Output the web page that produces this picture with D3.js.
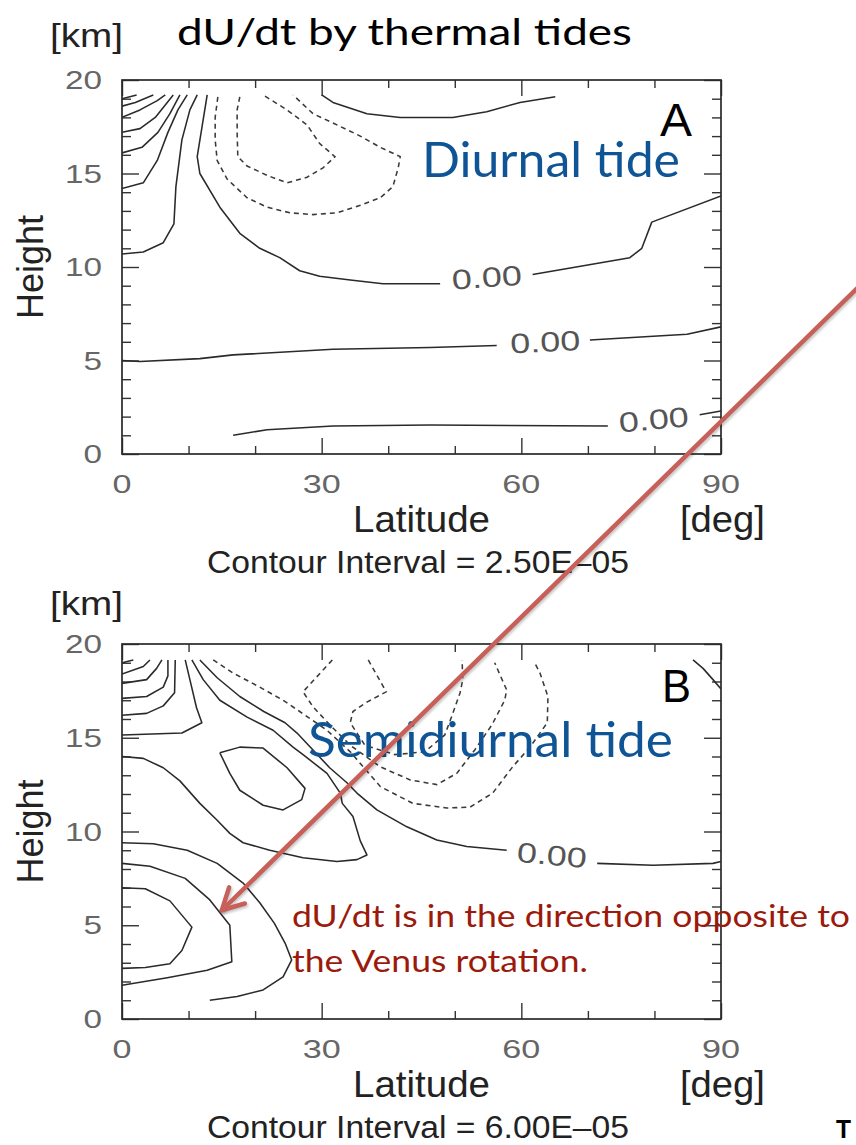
<!DOCTYPE html>
<html><head><meta charset="utf-8">
<script src="https://cdn.jsdelivr.net/npm/d3@7"></script>
<style>body{margin:0;background:#fff}svg{display:block}</style>
</head><body>
<svg id="c" width="856" height="1145"></svg>
<script>
// ---------- tick values ----------
const latMajor = [0, 30, 60, 90];
const latMinor = [10, 20, 40, 50, 70, 80];
const hMajor = [0, 5, 10, 15, 20];
const hMinor = [1,2,3,4,6,7,8,9,11,12,13,14,16,17,18,19];
const latTickLabels = ["0", "30", "60", "90"];
const hTickLabels = ["0", "5", "10", "15", "20"];

// ---------- Panel A (diurnal tide) contours: [latitude deg, height km] ----------
const A_solid = [
  [[0,19.0],[2.2,19.2]],
  [[0,18.6],[2.0,18.8],[4.7,19.2]],
  [[0,18.0],[2.7,18.4],[5.3,18.9],[6.5,19.2]],
  [[0,17.2],[2.7,17.4],[5.0,18.0],[6.8,18.8],[7.7,19.2]],
  [[0,16.1],[3.0,16.4],[5.4,17.2],[7.2,18.2],[8.7,19.2]],
  [[0,14.2],[3.2,14.5],[5.3,15.7],[6.9,17.2],[8.4,18.4],[9.8,19.2]],
  [[0,10.7],[3.2,10.8],[6.2,11.3],[7.8,12.3],[8.1,14.3],[9.0,16.8],[10.2,18.4],[11.3,19.2]],
  [[12.8,19.2],[11.3,15.9],[11.7,15.0],[14.7,13.2],[17.7,11.8],[20.7,11.0],[23.7,10.5],[26.7,9.8],[29.7,9.5],[34.3,9.3],[39.2,9.1],[47.8,9.1]],
  [[61.7,9.6],[76.3,10.5],[78.1,11.0],[79.6,12.4],[90,13.8]],
  [[30.0,19.2],[31.7,18.8],[36.8,18.2],[41.8,18.0],[49.7,18.0],[54.8,18.3],[59.8,18.8],[65.1,19.1]],
  [[0,5.0],[2.7,4.95],[11.7,5.1],[16.7,5.3],[31.7,5.6],[46.3,5.7],[56.3,5.8]],
  [[70.3,6.1],[84.9,6.4],[90,6.8]],
  [[16.7,1.0],[21.8,1.3],[31.7,1.5],[46.3,1.55],[73.0,1.5]],
  [[86.8,2.1],[90,2.3]]
];
const A_dashed = [
  [[17.7,19.1],[17.3,18.4],[17.3,17.2],[17.4,15.9],[18.8,15.4],[21.8,14.9],[24.8,14.5],[27.8,14.8],[30.2,15.3],[32.0,15.9],[29.7,16.6],[27.8,17.6],[24.8,18.4],[21.2,19.2]],
  [[14.4,19.1],[14.0,18.0],[14.0,16.8],[14.3,15.7],[15.8,14.7],[18.8,13.7],[21.8,13.2],[25.2,12.9],[28.7,12.8],[32.3,12.9],[35.8,13.3],[38.8,13.7],[40.7,14.3],[41.5,15.3],[41.8,15.9],[38.8,16.4],[35.8,17.0],[31.7,17.7],[28.7,18.2],[25.7,19.2]]
];
// contour labels: [lat, height, rotation deg, text]
const A_labels = [[54.8, 9.45, -4, "0.00"], [63.6, 6.0, -3, "0.00"], [79.9, 1.85, -5, "0.00"]];

// ---------- Panel B (semidiurnal tide) contours ----------
const B_solid = [
  [[0,19.0],[1.7,19.15]],
  [[0,18.4],[3.2,18.8],[4.2,19.15]],
  [[0,17.9],[3.7,18.1],[5.2,18.7],[6.0,19.15]],
  [[0,17.1],[3.7,17.2],[6.2,17.7],[6.9,18.3],[6.9,19.15]],
  [[0,16.2],[3.7,16.3],[6.2,16.7],[7.9,17.4],[8.0,19.15]],
  [[0,15.15],[9.0,15.25],[12.0,15.8],[11.2,16.6],[10.2,18.1],[9.5,19.15]],
  [[10.5,19.15],[12.2,18.1],[14.7,17.0],[18.8,16.1],[22.7,15.4],[25.7,14.5],[27.2,14.1],[30.8,13.1],[32.8,12.05],[33.1,11.5],[34.7,10.8],[35.8,9.5],[36.8,8.75],[35.3,8.5],[32.3,8.4],[27.2,8.6],[22.2,9.0],[18.2,9.4],[16.2,9.9],[14.3,10.6],[11.7,11.5],[8.7,12.7],[6.2,13.4],[3.2,13.9],[0,14.0]],
  [[14.7,14.2],[17.7,14.5],[21.2,14.45],[24.8,13.4],[27.5,12.3],[27.0,11.7],[24.2,11.15],[21.2,11.4],[17.7,12.2],[16.2,13.1],[14.7,14.2]],
  [[11.7,19.15],[14.3,18.2],[17.7,17.2],[21.3,16.4],[24.5,15.8],[26.3,15.25],[28.7,14.35],[31.2,13.4],[33.8,12.6],[35.3,12.05],[38.3,11.15],[42.8,10.25],[47.3,9.55],[51.8,9.2],[57.8,9.0]],
  [[71.4,8.3],[79.8,8.2],[88.8,8.3],[90,8.4]],
  [[85.8,19.15],[87.3,18.7],[88.8,18.1],[90,17.6]],
  [[0,9.4],[4.7,9.35],[9.8,9.0],[14.3,8.3],[18.2,7.25],[20.7,6.2],[22.9,5.1],[24.5,4.05],[25.5,3.15],[24.2,2.25],[21.2,1.55],[17.3,1.2],[13.2,1.0]],
  [[0,8.3],[4.2,8.15],[9.5,7.5],[13.2,6.35],[16.2,5.0],[16.5,3.05],[12.8,2.6],[6.8,2.2],[0,1.8]],
  [[0,7.0],[3.5,6.95],[7.2,6.3],[10.5,4.9],[9.0,3.65],[7.2,2.95],[3.5,2.75],[0,2.7]]
];
const B_dashed = [
  [[37.0,19.15],[39.7,17.45],[36.8,16.9],[34.7,16.4],[34.3,15.8],[36.5,14.6],[41.0,14.1],[45.5,14.25],[48.5,15.15],[49.6,16.2],[50.8,17.4],[51.2,18.1],[51.1,19.15]],
  [[31.6,19.15],[27.2,17.45],[28.7,16.65],[31.2,15.7],[34.3,14.6],[38.8,13.45],[43.3,12.75],[47.3,12.5],[50.3,13.1],[53.0,14.35],[55.6,15.7],[57.5,17.0],[57.8,17.55],[56.8,18.35],[56.0,19.0]],
  [[13.7,19.15],[16.7,18.45],[20.7,17.7],[24.2,17.0],[26.7,16.4],[30.8,15.4],[34.3,14.25],[38.8,12.4],[43.7,11.5],[48.8,11.25],[52.3,11.3],[55.7,12.05],[58.7,13.45],[61.3,14.5],[63.9,15.8],[64.0,17.2],[62.8,18.45],[62.0,19.0]]
];
const B_labels = [[64.6, 8.75, 5, "0.00"]];

// annotation arrow in panel-B data units [lat, km]
const arrowFrom = [111.4, 39.3];
const arrowTo = [15.0, 5.8];

// ---------- drawing ----------
const svg = d3.select("#c");
const FIG = "'Liberation Sans', Arial, Helvetica, sans-serif";
const SLIDE = "Lato, 'Open Sans', sans-serif";

function label(parent, str, x, y, o) {
  const t = parent.append("text").attr("x", x).attr("y", y).text(str)
    .attr("font-family", o.family || FIG).attr("font-size", o.size)
    .attr("fill", o.fill || "#222");
  if (o.len) t.attr("textLength", o.len).attr("lengthAdjust", "spacingAndGlyphs");
  if (o.weight) t.attr("font-weight", o.weight);
  if (o.transform) t.attr("transform", o.transform);
  return t;
}

const defs = svg.append("defs");
defs.append("filter").attr("id", "sh").attr("x", "-10%").attr("y", "-10%").attr("width", "120%").attr("height", "120%")
  .append("feGaussianBlur").attr("stdDeviation", 1.2);

function drawPanel(p) {
  const x = d3.scaleLinear().domain([0, 90]).range([122, 721]);
  const y = d3.scaleLinear().domain([0, 20]).range([p.bottom, p.top]);
  const g = svg.append("g");
  const cid = "clip" + p.name;
  defs.append("clipPath").attr("id", cid).append("rect")
    .attr("x", x(0)).attr("y", y(20)).attr("width", x(90) - x(0)).attr("height", y(0) - y(20));

  const mk = (axis, tr) => g.append("g").attr("transform", tr).call(axis)
    .call(s => s.select(".domain").remove()).call(s => s.selectAll("text").remove())
    .selectAll("line").attr("stroke", "#333").attr("stroke-width", 1.4);
  mk(d3.axisBottom(x).tickValues(latMajor).tickSize(-16).tickFormat(""), `translate(0,${y(0)})`);
  mk(d3.axisBottom(x).tickValues(latMinor).tickSize(-8).tickFormat(""), `translate(0,${y(0)})`);
  mk(d3.axisTop(x).tickValues(latMajor).tickSize(-16).tickFormat(""), `translate(0,${y(20)})`);
  mk(d3.axisTop(x).tickValues(latMinor).tickSize(-8).tickFormat(""), `translate(0,${y(20)})`);
  mk(d3.axisLeft(y).tickValues(hMajor).tickSize(-17).tickFormat(""), `translate(${x(0)},0)`);
  mk(d3.axisLeft(y).tickValues(hMinor).tickSize(-9).tickFormat(""), `translate(${x(0)},0)`);
  mk(d3.axisRight(y).tickValues(hMajor).tickSize(-17).tickFormat(""), `translate(${x(90)},0)`);
  mk(d3.axisRight(y).tickValues(hMinor).tickSize(-9).tickFormat(""), `translate(${x(90)},0)`);

  g.append("rect").attr("x", x(0)).attr("y", y(20)).attr("width", x(90) - x(0)).attr("height", y(0) - y(20))
    .attr("fill", "none").attr("stroke", "#2a2a2a").attr("stroke-width", 1.7);

  const line = d3.line().x(d => x(d[0])).y(d => y(d[1]));
  const cg = g.append("g").attr("clip-path", `url(#${cid})`).attr("fill", "none");
  cg.selectAll("path.s").data(p.solid).join("path").attr("class", "s").attr("d", line)
    .attr("stroke", "#2a2a2a").attr("stroke-width", 1.55).attr("stroke-linejoin", "round");
  cg.selectAll("path.d").data(p.dashed).join("path").attr("class", "d").attr("d", line)
    .attr("stroke", "#3a3a3a").attr("stroke-width", 1.55).attr("stroke-dasharray", "5,4");

  p.labels.forEach(l => {
    label(g, l[3], -35, 10, { size: 28, fill: "#555", len: 70,
      transform: `translate(${x(l[0])},${y(l[1])}) rotate(${l[2]})` });
  });

  // tick labels
  latMajor.forEach((v, i) => {
    const s = latTickLabels[i], w = 19 * s.length;
    label(g, s, x(v) - w / 2, y(0) + 39, { size: 26, fill: "#666", len: w });
  });
  hMajor.forEach((v, i) => {
    const s = hTickLabels[i], w = 18.5 * s.length;
    label(g, s, 102 - w, y(v) + 9, { size: 25, fill: "#666", len: w });
  });

  const cy = (y(0) + y(20)) / 2;
  label(g, "Height", -52, 0, { size: 37, len: 104, transform: `translate(43,${cy}) rotate(-90)` });
  label(g, "[km]", 50, p.kmY, { size: 34, len: 73 });
  label(g, "Latitude", 353, y(0) + 78, { size: 37, len: 137 });
  label(g, "[deg]", 680, y(0) + 78, { size: 36, len: 85 });
  label(g, p.interval, 207, y(0) + 119, { size: 31, len: 422 });
  label(g, p.letter, p.letterX, p.letterY, { size: 46, fill: "#000", len: p.letterW });
  return { x, y };
}

const pa = drawPanel({ name: "A", top: 80, bottom: 454, solid: A_solid, dashed: A_dashed, labels: A_labels,
  kmY: 47, interval: "Contour Interval = 2.50E\u201305", letter: "A", letterX: 660, letterY: 136, letterW: 32 });
const pb = drawPanel({ name: "B", top: 644, bottom: 1019, solid: B_solid, dashed: B_dashed, labels: B_labels,
  kmY: 615, interval: "Contour Interval = 6.00E\u201305", letter: "B", letterX: 662, letterY: 702, letterW: 29 });

// slide texts
label(svg, "dU/dt by thermal tides", 177, 45, { family: SLIDE, size: 36, fill: "#000", len: 455 });
label(svg, "Diurnal tide", 422, 177, { family: SLIDE, size: 48, fill: "#0f5596", len: 258 });
label(svg, "Semidiurnal tide", 308, 757, { family: SLIDE, size: 48, fill: "#0f5596", len: 365 });
label(svg, "dU/dt is in the direction opposite to", 292, 927, { family: SLIDE, size: 30, fill: "#9c1a0c", len: 558 });
label(svg, "the Venus rotation.", 292, 972, { family: SLIDE, size: 30, fill: "#9c1a0c", len: 296 });
label(svg, "T", 836, 1138, { family: FIG, size: 25, fill: "#000", weight: "bold", len: 15 });

// arrow
const x0 = pb.x(arrowFrom[0]), y0 = pb.y(arrowFrom[1]);
const x1 = pb.x(arrowTo[0]), y1 = pb.y(arrowTo[1]);
const ang = Math.atan2(y0 - y1, x0 - x1), hl = 24, ha = 28 * Math.PI / 180;
const w1 = [x1 + hl * Math.cos(ang + ha), y1 + hl * Math.sin(ang + ha)];
const w2 = [x1 + hl * Math.cos(ang - ha), y1 + hl * Math.sin(ang - ha)];
const ag = svg.append("g").attr("fill", "none").attr("stroke-linecap", "round").attr("stroke-linejoin", "round");
[["rgba(0,0,0,0.2)", "translate(1.5,2)", "url(#sh)"], ["#c8605a", null, null]].forEach(([col, tr, f]) => {
  const gg = ag.append("g");
  if (tr) gg.attr("transform", tr);
  if (f) gg.attr("filter", f);
  gg.append("line").attr("x1", x0).attr("y1", y0).attr("x2", x1).attr("y2", y1).attr("stroke", col).attr("stroke-width", 4.5);
  gg.append("polyline").attr("points", [w1, [x1, y1], w2].map(d => d.join(",")).join(" "))
    .attr("stroke", col).attr("stroke-width", 4.5);
});
</script>
</body></html>
